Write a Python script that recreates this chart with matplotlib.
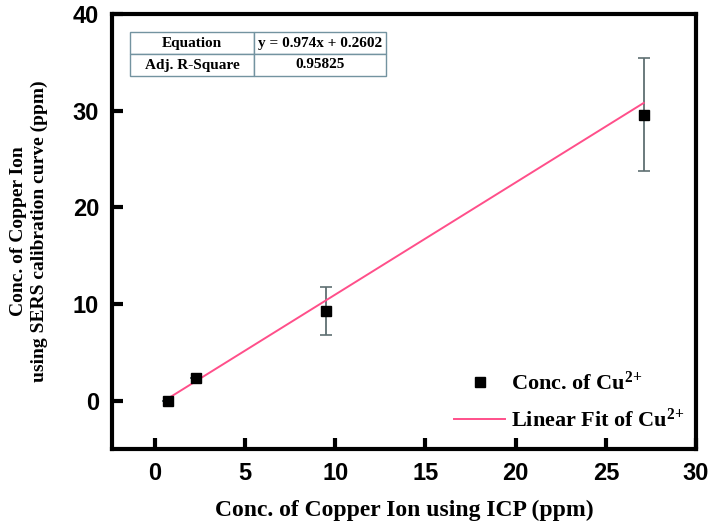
import matplotlib
matplotlib.use("Agg")
import matplotlib.pyplot as plt
import numpy as np

icp = [0.74, 2.25, 9.5, 27.1]
sers = [0.0, 2.35, 9.3, 29.6]
err = [0.0, 0.0, 2.5, 5.85]
fit_x = [0.7, 27.1]
fit_y = [0.2, 30.8]
equation = "y = 0.974x + 0.2602"
adj_r2 = "0.95825"
xticks = [0, 5, 10, 15, 20, 25, 30]
yticks = [0, 10, 20, 30, 40]

plt.rcParams['mathtext.fontset'] = 'custom'
plt.rcParams['mathtext.rm'] = 'Liberation Serif:bold'
plt.rcParams['mathtext.bf'] = 'Liberation Serif:bold'
plt.rcParams['mathtext.it'] = 'Liberation Serif:bold'

fig = plt.figure(figsize=(7.12, 5.27), dpi=100)
ax = fig.add_axes([111.7 / 712, 1 - 449 / 527, (696 - 111.7) / 712, (449 - 14) / 527])

ax.errorbar(icp, sers, yerr=err, fmt='none', ecolor='#5f6f72', elinewidth=1.3,
            capsize=4, capthick=1.2, zorder=2)
ax.plot(icp, sers, 's', color='black', markersize=6.5, zorder=3, linestyle='none',
        label=r'Conc. of Cu$^{\mathbf{2{+}}}$')
ax.plot(fit_x, fit_y, color='#ff4f8a', lw=1.4, zorder=2.5,
        label=r'Linear Fit of Cu$^{\mathbf{2{+}}}$')

ax.set_xlim(-2.4, 30)
ax.set_ylim(-5, 40)
ax.set_xticks(xticks)
ax.set_yticks(yticks)
for s in ax.spines.values():
    s.set_linewidth(3)
ax.tick_params(direction='in', length=8, width=3, top=False, right=False, pad=9)
for lab in ax.get_xticklabels() + ax.get_yticklabels():
    lab.set_fontfamily('Liberation Sans')
    lab.set_fontweight('bold')
    lab.set_fontsize(17)

ax.set_xlabel('Conc. of Copper Ion using ICP (ppm)', fontfamily='Liberation Serif',
              fontweight='bold', fontsize=17, labelpad=11)
ax.set_ylabel('Conc. of Copper Ion\nusing SERS calibration curve (ppm)',
              fontfamily='Liberation Serif', fontweight='bold', fontsize=14, labelpad=18,
              linespacing=1.25)

leg = ax.legend(loc='upper left', bbox_to_anchor=((454 - 111.7) / 584.3, 0.178),
                frameon=False, borderpad=0, borderaxespad=0,
                prop={'family': 'Liberation Serif', 'weight': 'bold', 'size': 16},
                handlelength=2.3, handletextpad=0.28, labelspacing=0.6)

tbl = ax.table(cellText=[['Equation', equation], ['Adj. R-Square', adj_r2]],
               cellLoc='center', colWidths=[0.485, 0.515],
               bbox=[(130 - 111.7) / 584.3, (449 - 76) / 435, 256 / 584.3, 44 / 435])
tbl.auto_set_font_size(False)
for (r, c), cell in tbl.get_celld().items():
    cell.set_edgecolor('#7393a0')
    cell.set_linewidth(1.0)
    cell.get_text().set_fontfamily('Liberation Serif')
    cell.get_text().set_fontweight('bold')
    cell.get_text().set_fontsize(11)

fig.savefig('out.png', dpi=100)
